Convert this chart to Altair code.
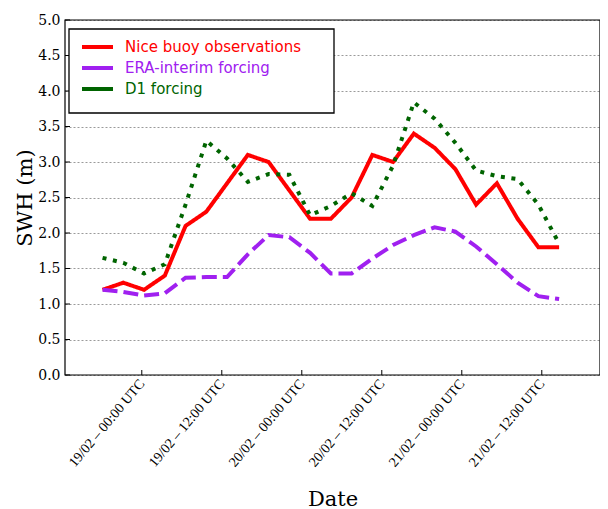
import altair as alt
import pandas as pd

# ---- data ----
sample_idx = list(range(23))
buoy = [1.2, 1.3, 1.2, 1.4, 2.1, 2.3, 2.7, 3.1, 3.0, 2.6, 2.2, 2.2, 2.5, 3.1, 3.0, 3.4, 3.2, 2.9, 2.4, 2.7, 2.2, 1.8, 1.8]
era = [1.2, 1.17, 1.12, 1.15, 1.37, 1.38, 1.38, 1.70, 1.97, 1.94, 1.72, 1.43, 1.43, 1.64, 1.83, 1.97, 2.08, 2.02, 1.81, 1.56, 1.30, 1.11, 1.07]
d1 = [1.65, 1.58, 1.43, 1.56, 2.4, 3.3, 3.05, 2.72, 2.83, 2.82, 2.25, 2.38, 2.56, 2.38, 2.95, 3.84, 3.61, 3.27, 2.88, 2.80, 2.76, 2.4, 1.85]

tick_pos = [1.89, 5.745, 9.6, 13.455, 17.31, 21.165]
tick_labels = ["19/02 \u2013 00:00 UTC", "19/02 \u2013 12:00 UTC", "20/02 \u2013 00:00 UTC",
               "20/02 \u2013 12:00 UTC", "21/02 \u2013 00:00 UTC", "21/02 \u2013 12:00 UTC"]
y_ticks = [0.0, 0.5, 1.0, 1.5, 2.0, 2.5, 3.0, 3.5, 4.0, 4.5, 5.0]

series_names = ["Nice buoy observations", "ERA-interim forcing", "D1 forcing"]
series_colors = ["#ff0000", "#a020f0", "#006400"]
series_dash = [[1, 0], [15, 6], [4, 6.6]]

W, H = 535, 355
x_dom = [-1.81, 23.97]

df = pd.DataFrame({"idx": sample_idx, "buoy": buoy, "era": era, "d1": d1})
ticks_df = pd.DataFrame({"pos": tick_pos, "label": tick_labels})
yt_df = pd.DataFrame({"v": y_ticks})
one = pd.DataFrame({"a": [0]})

xs = alt.Scale(domain=x_dom, nice=False, zero=False)
ys = alt.Scale(domain=[0, 5], nice=False, zero=False)

arr_pos = "[" + ",".join(str(p) for p in tick_pos) + "]"
arr_lab = "[" + ",".join("'" + l + "'" for l in tick_labels) + "]"
label_expr = f"{arr_lab}[indexof({arr_pos}, datum.value)]"

x_axis = alt.Axis(values=tick_pos, labelExpr=label_expr, labelAngle=310,
                  labelAlign="right", labelBaseline="middle",
                  labelFont="Liberation Serif", labelFontSize=14, labelColor="black",
                  labelPadding=6, labelOverlap=False, labelBound=False, labelFlush=False,
                  ticks=False, domain=False, grid=False,
                  title="Date", titleFont="DejaVu Serif", titleFontSize=21,
                  titleFontWeight="normal", titleColor="black",
                  titleY=130, titleBaseline="alphabetic")

y_axis = alt.Axis(values=y_ticks, format=".1f", labelFont="DejaVu Serif",
                  labelFontSize=14, labelColor="black", labelPadding=5,
                  ticks=False, domain=False, grid=True, gridDash=[2, 2],
                  gridColor="#9a9a9a", gridWidth=1, labelFlush=False,
                  title="SWH (m)", titleFont="DejaVu Serif", titleFontSize=21,
                  titleFontWeight="normal", titleColor="black",
                  titleX=-40, titleY=H / 2, titleAngle=270,
                  titleAlign="center", titleBaseline="middle")

base = alt.Chart(df)

def line(field, i):
    return base.mark_line(color=series_colors[i], strokeWidth=4,
                          strokeDash=series_dash[i], strokeCap="butt",
                          clip=True).encode(
        x=alt.X("idx:Q", scale=xs, axis=x_axis),
        y=alt.Y(f"{field}:Q", scale=ys, axis=y_axis),
    )

red = line("buoy", 0)
purple = line("era", 1)
green = line("d1", 2)

xtick_marks = alt.Chart(ticks_df).mark_rule(color="black", strokeWidth=1).encode(
    x=alt.X("pos:Q", scale=xs, axis=x_axis), y=alt.value(H - 5), y2=alt.value(H))
ytick_marks = alt.Chart(yt_df).mark_rule(color="black", strokeWidth=1).encode(
    y=alt.Y("v:Q", scale=ys, axis=y_axis), x=alt.value(0), x2=alt.value(5))

frame = alt.Chart(one).mark_rect(fillOpacity=0, stroke="black", strokeWidth=1.2).encode(
    x=alt.value(0), x2=alt.value(W), y=alt.value(0), y2=alt.value(H))

legend_box = alt.Chart(one).mark_rect(fill="white", stroke="black", strokeWidth=1.3).encode(
    x=alt.value(4), x2=alt.value(269), y=alt.value(9), y2=alt.value(93))

legend_layers = [legend_box]
leg_y = [27, 48, 69]
for i, name in enumerate(series_names):
    legend_layers.append(
        alt.Chart(one).mark_rule(color=series_colors[i], strokeWidth=4).encode(
            x=alt.value(17), x2=alt.value(48), y=alt.value(leg_y[i])))
    legend_layers.append(
        alt.Chart(one).mark_text(text=name, color=series_colors[i], font="DejaVu Sans",
                                 fontSize=15, align="left", baseline="middle").encode(
            x=alt.value(60), y=alt.value(leg_y[i])))

chart = alt.layer(red, purple, green, xtick_marks, ytick_marks, frame, *legend_layers).properties(
    width=W, height=H,
    autosize=alt.AutoSizeParams(type="none"),
    padding={"left": 57, "top": 12, "right": 0, "bottom": 134},
    background="white",
).configure_view(stroke=None)

chart.save("out.html", embed_options={"renderer": "svg", "actions": False})
